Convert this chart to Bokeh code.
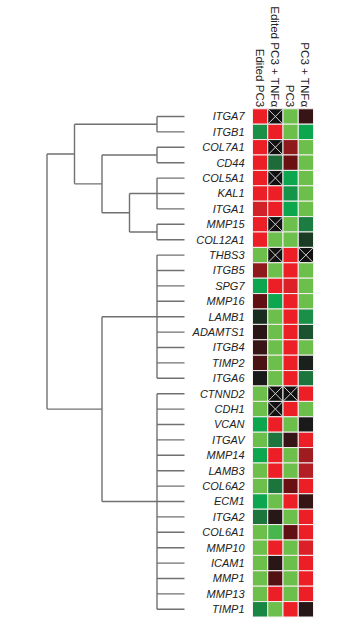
import numpy as np
from bokeh.plotting import figure
from bokeh.models import Range1d, ColumnDataSource, LinearColorMapper
from bokeh.core.properties import value
from bokeh.embed import file_html
from bokeh.resources import INLINE

genes = ["ITGA7", "ITGB1", "COL7A1", "CD44", "COL5A1", "KAL1", "ITGA1", "MMP15",
         "COL12A1", "THBS3", "ITGB5", "SPG7", "MMP16", "LAMB1", "ADAMTS1", "ITGB4",
         "TIMP2", "ITGA6", "CTNND2", "CDH1", "VCAN", "ITGAV", "MMP14", "LAMB3",
         "COL6A2", "ECM1", "ITGA2", "COL6A1", "MMP10", "ICAM1", "MMP1", "MMP13", "TIMP1"]
conditions = ["Edited PC3", "Edited PC3 + TNFα", "PC3", "PC3 + TNFα"]

# relative expression (-1 = green, 0 = black, +1 = red); None = no data (X)
edited_pc3 = [1.0, -0.55, 1.0, 1.0, 1.0, 1.0, 0.85, 1.0, 1.0, -1.0, 0.6, -0.75, 0.4,
              -0.08, 0.12, 0.2, 0.3, 0.0, -1.0, -1.0, -0.75, -1.0, -0.75, -1.0, -1.0,
              -0.75, -0.4, -1.0, -1.0, -1.0, -1.0, -1.0, -0.5]
edited_pc3_tnfa = [None, 1.0, None, -0.35, None, 1.0, 1.0, None, -1.0, None, -1.0, 1.0,
                   -0.75, -1.0, -1.0, -1.0, -1.0, -1.0, None, None, 1.0, -0.4, 1.0, 1.0,
                   -0.4, -1.0, 0.1, -0.9, 1.0, 0.12, 0.35, 1.0, -1.0]
pc3 = [-1.0, -1.0, 0.6, 0.45, -0.75, -0.6, -0.75, -1.0, -1.0, 1.0, 1.0, 0.9, 1.0, 1.0,
       1.0, 1.0, 1.0, 1.0, None, 1.0, -1.0, 0.2, -1.0, -1.0, 0.45, 1.0, -1.0, 0.4,
       -1.0, -1.0, -1.0, -1.0, 1.0]
pc3_tnfa = [0.2, -0.75, -1.0, -1.0, -1.0, -1.0, -1.0, -0.45, -0.15, None, -1.0, -1.0,
            -1.0, -0.55, -0.25, -1.0, -0.03, -0.4, 1.0, -1.0, 0.0, 1.0, 0.65, 0.72, 1.0,
            0.2, 1.0, 1.0, 0.9, 1.0, 1.0, 1.0, 0.08]

# dendrogram: merge levels, leaves are row indices
dendrogram = {"h": 5, "children": [
    {"h": 4, "children": [
        {"h": 1, "children": [0, 1]},
        {"h": 3, "children": [
            {"h": 1, "children": [2, 3]},
            {"h": 2, "children": [
                {"h": 1, "children": [4, 5, 6]},
                {"h": 1, "children": [7, 8]}]}]}]},
    {"h": 3, "children": [
        {"h": 1, "children": list(range(9, 18))},
        {"h": 1, "children": list(range(18, 33))}]}]}

# ---- colour map ----
anchors = [(-1.0, "#6dbf4b"), (-0.75, "#0ba64e"), (-0.55, "#198f48"), (-0.35, "#1d6b39"),
           (-0.15, "#1a3b25"), (0.0, "#1a1a1a"), (0.15, "#2e1515"), (0.3, "#4a1214"),
           (0.45, "#6a0f12"), (0.6, "#8f1a1c"), (0.8, "#c8222a"), (1.0, "#ec1f26")]
def hex2rgb(h):
    return np.array([int(h[i:i + 2], 16) for i in (1, 3, 5)], dtype=float)
av = np.array([a[0] for a in anchors])
ac = np.array([hex2rgb(a[1]) for a in anchors])
palette = []
for t in np.linspace(-1, 1, 256):
    rgb = [np.interp(t, av, ac[:, k]) for k in range(3)]
    palette.append("#%02x%02x%02x" % tuple(int(round(c)) for c in rgb))
mapper = LinearColorMapper(palette=palette, low=-1, high=1, nan_color="#111111")

# ---- figure ----
p = figure(width=360, height=618, output_backend="svg", toolbar_location=None,
           x_range=Range1d(-17.025, 6.582), y_range=Range1d(32.598, -7.532),
           x_axis_location=None, y_axis_location=None, min_border=0)
p.grid.visible = False
p.outline_line_color = None
p.extra_x_ranges = {"dendro": Range1d(6.691, -6.4)}

series = [edited_pc3, edited_pc3_tnfa, pc3, pc3_tnfa]
xs, ys, vals = [], [], []
mx0, my0, mx1, my1 = [], [], [], []
for c, col in enumerate(series):
    for r, v in enumerate(col):
        xs.append(c); ys.append(r)
        vals.append(np.nan if v is None else v)
        if v is None:
            mx0 += [c - 0.5, c - 0.5]; my0 += [r - 0.5, r + 0.5]
            mx1 += [c + 0.5, c + 0.5]; my1 += [r + 0.5, r - 0.5]

src = ColumnDataSource(dict(x=xs, y=ys, v=vals))
p.rect(x="x", y="y", width=1, height=1, source=src,
       fill_color={"field": "v", "transform": mapper},
       line_color="#f4f0f0", line_width=1)
p.segment(x0=mx0, y0=my0, x1=mx1, y1=my1, line_color="#cfcfcf", line_width=1)

# gene labels
p.text(x=[-0.5] * len(genes), y=list(range(len(genes))), text=genes, x_offset=-8,
       text_align="right", text_baseline="middle", text_font=value("Liberation Sans"),
       text_font_style="italic", text_font_size="11px", text_color="#222222")

# condition labels
p.text(x=list(range(len(conditions))), y=[-0.5] * len(conditions), text=conditions,
       angle=-np.pi / 2, y_offset=-1.5, text_align="right", text_baseline="middle",
       text_font=value("Liberation Sans"), text_font_size="11.6px", text_color="#222222")

# dendrogram
sx0, sy0, sx1, sy1 = [], [], [], []
def walk(node):
    if isinstance(node, int):
        return node, 0
    pos = [walk(ch) for ch in node["children"]]
    h = node["h"]
    for (y, ch) in pos:
        sx0.append(ch); sx1.append(h); sy0.append(y); sy1.append(y)
    ymin = min(y for y, _ in pos); ymax = max(y for y, _ in pos)
    sx0.append(h); sx1.append(h); sy0.append(ymin); sy1.append(ymax)
    return (ymin + ymax) / 2.0, h
walk(dendrogram)
p.segment(x0=sx0, y0=sy0, x1=sx1, y1=sy1, x_range_name="dendro",
          line_color="#707070", line_width=1.4)

open("out.html", "w").write(file_html(p, INLINE))
